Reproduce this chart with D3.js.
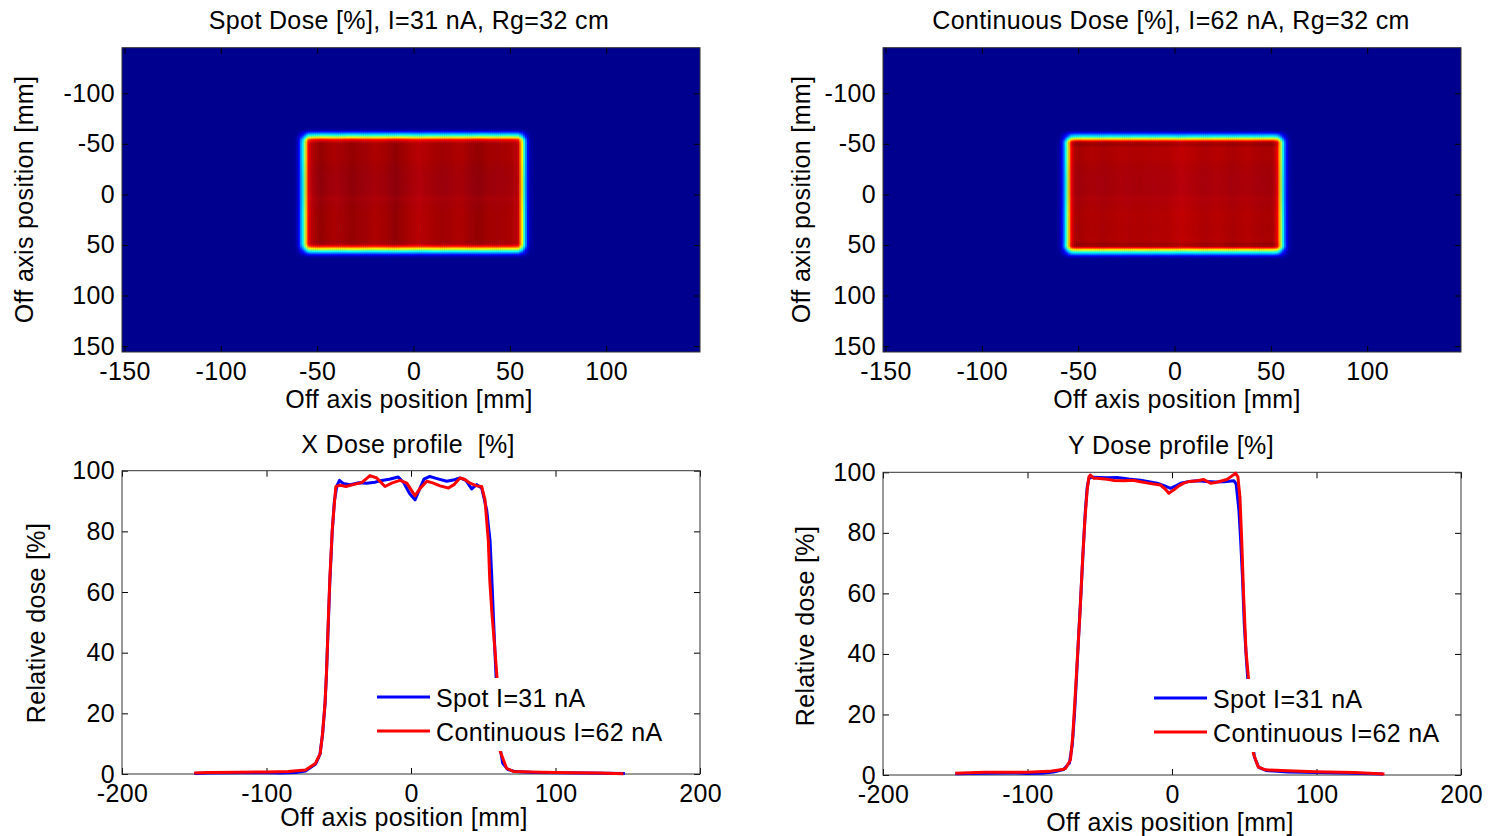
<!DOCTYPE html>
<html>
<head>
<meta charset="utf-8">
<script src="https://cdn.jsdelivr.net/npm/d3@7"></script>
<style>
  body { margin: 0; background: #fff; }
  svg { display: block; }
  text { font-family: "Liberation Sans", Arial, sans-serif; font-size: 25px; fill: #000; letter-spacing: 0.35px; }
</style>
</head>
<body>
<svg id="chart" width="1493" height="836"></svg>
<script>
// ---- tick labels
const mapXTicks = [-150, -100, -50, 0, 50, 100];
const mapYTicks = [-100, -50, 0, 50, 100, 150];
const profXTicks = [-200, -100, 0, 100, 200];
const profYTicks = [0, 20, 40, 60, 80, 100];

// ---- dose maps: column (x) and row (y) profiles [%]
const spotColPos = [-62, -60.5, -59.5, -58.6, -57.3, -56.6, -55.9, -55.3, -54.7, -53, -51, -48, -44, -40, -36, -32, -26, -20, -14, -9, -4, 0, 3, 6, 10, 14, 19, 24, 29, 34, 39, 44, 50, 54.3, 55, 55.5, 56.5, 57.1, 57.7, 58.5, 59.4, 60.5, 62];
const spotColVal = [0, 4, 12, 25, 37.5, 50, 62.5, 75, 87.5, 94, 96, 98, 96.5, 95.5, 96.5, 98, 96.5, 95.5, 96.5, 98, 96.5, 95, 94, 95, 96, 96.5, 96, 95.5, 96.5, 98, 96.5, 96, 96, 94, 87.5, 75, 62.5, 50, 37.5, 25, 12, 4, 0];
const spotRowPos = [-65, -63.5, -62.3, -60.7, -59, -57.7, -56.4, -55.4, -54.5, -52.5, -50.5, -30, -10, 0, 4, 8, 20, 40, 48.4, 50, 51.8, 53, 54, 55.3, 56.7, 58.3, 60, 61.5, 63];
const spotRowVal = [0, 4, 12, 25, 37.5, 50, 62.5, 75, 87.5, 96, 100, 100, 99.5, 99.5, 98.5, 99.5, 100, 100, 100, 96, 85, 72, 62.5, 50, 37.5, 25, 12, 4, 0];

const contColPos = [-61, -59.5, -58.3, -57.2, -56.4, -55.7, -55, -54.3, -53.6, -52, -50, -42, -34, -26, -18, -10, -4, 0, 3.5, 7, 14, 22, 30, 38, 46, 50, 52, 53.6, 54.3, 55, 55.7, 56.4, 57.2, 58.3, 59.5, 61];
const contColVal = [0, 4, 12, 25, 37.5, 50, 62.5, 75, 87.5, 95, 96.5, 95.5, 96, 95, 95.8, 95, 95.5, 94.5, 93.5, 94.5, 95.5, 95, 95.8, 95.2, 96, 96.5, 95, 87.5, 75, 62.5, 50, 37.5, 25, 12, 4, 0];
const contRowPos = [-64, -62.5, -61, -59.5, -57.5, -56.3, -55.2, -54.2, -53.2, -51.5, -49.5, -46, -30, -15, 0, 4, 8, 20, 35, 46, 49.5, 51.5, 53, 54, 55, 56.3, 57.8, 59.5, 61, 62.5, 64];
const contRowVal = [0, 4, 12, 25, 37.5, 50, 62.5, 75, 87.5, 100, 102, 99.5, 99.8, 99.3, 99.3, 98.5, 99.3, 99.5, 99.8, 99.5, 102, 100, 87.5, 75, 62.5, 50, 37.5, 25, 12, 4, 0];

// ---- X dose profile [mm, %]
const xSpot = [[-150, 0.2], [-140, 0.3], [-120, 0.4], [-100, 0.4], [-90, 0.3], [-80, 0.5], [-73, 1.0], [-66, 3.3], [-63, 6.5], [-61.2, 13], [-59.5, 23], [-58.5, 33], [-57.2, 50], [-56.2, 63], [-54.5, 80], [-53, 90], [-51.3, 95], [-49.5, 96.8], [-47, 95.8], [-42, 95.4], [-36, 96], [-30.7, 95.9], [-25, 96.2], [-20.3, 96.8], [-15, 97.2], [-8.8, 97.9], [-5, 96], [-1, 92.5], [2.8, 90.4], [6, 94], [9, 97.2], [13, 98.1], [18, 97.4], [24.7, 96.5], [30, 97], [33.9, 97.6], [38, 96.8], [42, 94], [45.5, 95.4], [48.9, 94.3], [50.5, 91], [52.4, 87], [54.7, 77], [55.8, 66], [57.2, 50], [58.5, 36], [60, 21], [61.5, 9], [63.5, 3.5], [67, 1.5], [72, 0.8], [85, 0.5], [100, 0.4], [120, 0.3], [148, 0.2]];
const xCont = [[-150, 0.3], [-140, 0.5], [-120, 0.6], [-100, 0.7], [-85, 0.8], [-73, 1.3], [-66.1, 3.5], [-62.8, 6.8], [-61.2, 13.4], [-59.5, 23.3], [-58.5, 33.2], [-57.2, 50.8], [-56.2, 64], [-54.5, 80.5], [-52.9, 90], [-52, 94.8], [-49, 95.2], [-45, 94.8], [-40, 95.4], [-34.1, 96.1], [-28.4, 98.4], [-23.7, 97.6], [-18, 94.8], [-13, 96], [-7.6, 96.8], [-2.9, 95.9], [2.8, 91.7], [6, 94], [10.9, 96.5], [15, 96], [20.1, 95], [25.9, 94.3], [30, 95.5], [33.9, 97.6], [37, 97.2], [40.8, 95.9], [45.5, 95], [48.9, 94.8], [51.2, 90.4], [53.5, 77], [54.5, 64], [56, 53], [57.9, 42], [59.5, 32], [61.8, 7.4], [66.1, 1.9], [71.1, 0.8], [90, 0.6], [112, 0.4], [130, 0.3], [147, 0.1]];

// ---- Y dose profile [mm, %]
const ySpot = [[-150, 0.4], [-130, 0.6], [-110, 0.7], [-100, 0.5], [-90, 0.6], [-82, 1], [-75, 1.8], [-71, 4], [-69, 10], [-67.5, 20], [-66, 33], [-64.5, 47], [-63, 60], [-61.5, 74], [-60, 87], [-58.7, 95], [-57.5, 98], [-55, 98.4], [-50, 98.3], [-45, 98.2], [-38, 98.3], [-30, 97.8], [-21.8, 97.4], [-15, 96.8], [-10.3, 96.4], [-5, 95.5], [-1, 94.7], [3, 95.6], [6, 96.4], [12, 97], [17.5, 97.2], [24, 97], [30, 96.8], [36, 96.9], [42.9, 97.2], [44.4, 96.1], [46.3, 87.5], [47.5, 77.6], [48.8, 65], [50, 50], [51.5, 38], [53, 28], [55, 14], [57, 6], [60, 2.5], [65, 1.5], [80, 1], [100, 0.8], [125, 0.6], [146, 0.3]];
const yCont = [[-150, 0.6], [-130, 0.9], [-110, 0.9], [-100, 0.9], [-85, 1.2], [-76, 1.8], [-73.6, 2.2], [-70.3, 5], [-68.7, 12.7], [-67, 25.9], [-65.3, 40.2], [-63.7, 53.4], [-62, 69.9], [-60.3, 84.2], [-58.7, 94.2], [-57.5, 98.5], [-56.5, 99.1], [-54, 98], [-51.9, 98], [-44.9, 97.7], [-40, 97.3], [-33.4, 97.2], [-27, 97.4], [-21.8, 96.9], [-12.6, 96.1], [-8, 95.8], [-4.5, 94.4], [-2.2, 93.1], [1.3, 94.2], [5, 95.6], [8.2, 96.4], [12, 97], [17.5, 97.2], [22, 97.6], [26.7, 96.4], [30, 96.6], [34.8, 97.2], [38, 97.6], [40.6, 98.5], [44, 99.7], [45.6, 98.5], [47, 91.9], [48.2, 78], [49.5, 60], [51.2, 41], [52.8, 32.5], [56.3, 7.2], [59.6, 2.7], [64.5, 1.7], [80, 1.4], [99, 1.1], [126, 0.8], [147, 0.3]];

const legendNames = ["Spot I=31 nA", "Continuous I=62 nA"];
const SPOT = "#0000ff";
const CONT = "#ff0000";

const svg = d3.select("#chart");

const jet = d3.scaleLinear()
  .domain([0, 12.5, 37.5, 62.5, 87.5, 100])
  .range(["#00008f", "#0000ff", "#00ffff", "#ffff00", "#ff0000", "#800000"])
  .clamp(true);

function label(x, y, str, opts = {}) {
  const t = svg.append("text")
    .attr("text-anchor", opts.anchor || "middle")
    .style("white-space", "pre")
    .text(str);
  if (opts.rotate) t.attr("transform", `translate(${x},${y}) rotate(-90)`);
  else t.attr("x", x).attr("y", y);
  return t;
}

function axes(p, x, y, xTicks, yTicks) {
  const g = svg.append("g");
  const fmt = d => String(d);
  g.append("g").attr("transform", `translate(0,${p.bottom})`)
    .call(d3.axisBottom(x).tickValues(xTicks).tickSize(-6).tickPadding(10).tickFormat(fmt));
  g.append("g").attr("transform", `translate(0,${p.top})`)
    .call(d3.axisTop(x).tickValues(xTicks).tickSize(-6).tickFormat(""));
  g.append("g").attr("transform", `translate(${p.left},0)`)
    .call(d3.axisLeft(y).tickValues(yTicks).tickSize(-6).tickPadding(7).tickFormat(fmt));
  g.append("g").attr("transform", `translate(${p.right},0)`)
    .call(d3.axisRight(y).tickValues(yTicks).tickSize(-6).tickFormat(""));
  g.selectAll(".domain").remove();
  g.selectAll(".tick line").attr("stroke", "#000");
  g.append("rect")
    .attr("x", p.left).attr("y", p.top)
    .attr("width", p.right - p.left).attr("height", p.bottom - p.top)
    .attr("fill", "none").attr("stroke", "#333").attr("stroke-width", 1);
}

function doseMap(p, colPos, colVal, rowPos, rowVal) {
  const x = d3.scaleLinear().domain([-151.3, 148.7]).range([p.left, p.right]);
  const y = d3.scaleLinear().domain([-145.1, 155.9]).range([p.top, p.bottom]);
  const col = d3.scaleLinear().domain(colPos).range(colVal).clamp(true);
  const row = d3.scaleLinear().domain(rowPos).range(rowVal).clamp(true);

  const cells = [];
  for (let gx = -66; gx < 66; gx++) {
    for (let gy = -66; gy < 66; gy++) {
      const v = col(gx + 0.5) * row(gy + 0.5) / 100;
      if (v > 0.5) cells.push({ x: gx, y: gy, v });
    }
  }

  const g = svg.append("g");
  g.append("rect")
    .attr("x", p.left).attr("y", p.top)
    .attr("width", p.right - p.left).attr("height", p.bottom - p.top)
    .attr("fill", jet(0));
  g.selectAll("rect.cell")
    .data(cells)
    .join("rect")
    .attr("class", "cell")
    .attr("x", d => x(d.x))
    .attr("y", d => y(d.y))
    .attr("width", d => x(d.x + 1) - x(d.x) + 0.4)
    .attr("height", d => y(d.y + 1) - y(d.y) + 0.4)
    .attr("fill", d => jet(d.v));

  axes(p, x, y, mapXTicks, mapYTicks);
}

function profile(p, spot, cont, legendX, legendY) {
  const x = d3.scaleLinear().domain([-200, 200]).range([p.left, p.right]);
  const y = d3.scaleLinear().domain([0, 100]).range([p.bottom, p.top]);
  const line = d3.line()
    .x(d => x(d[0]))
    .y(d => y(d[1]));

  axes(p, x, y, profXTicks, profYTicks);

  svg.append("path").datum(spot)
    .attr("d", line).attr("fill", "none")
    .attr("stroke", SPOT).attr("stroke-width", 3).attr("stroke-linejoin", "round");
  svg.append("path").datum(cont)
    .attr("d", line).attr("fill", "none")
    .attr("stroke", CONT).attr("stroke-width", 3).attr("stroke-linejoin", "round");

  // legend: white background, no visible border
  svg.append("rect")
    .attr("x", legendX - 7).attr("y", legendY - 19)
    .attr("width", 300).attr("height", 73)
    .attr("fill", "#fff");
  [SPOT, CONT].forEach((c, i) => {
    const ly = legendY + i * 34;
    svg.append("line")
      .attr("x1", legendX).attr("x2", legendX + 53)
      .attr("y1", ly).attr("y2", ly)
      .attr("stroke", c).attr("stroke-width", 3);
    label(legendX + 59, ly + 10, legendNames[i], { anchor: "start" });
  });
}

const spotMap = { left: 122, right: 700, top: 47.7, bottom: 352 };
const contMap = { left: 883, right: 1461, top: 47.7, bottom: 352 };
const xProf = { left: 122, right: 700, top: 470.7, bottom: 774 };
const yProf = { left: 883, right: 1461, top: 472.3, bottom: 775 };

doseMap(spotMap, spotColPos, spotColVal, spotRowPos, spotRowVal);
doseMap(contMap, contColPos, contColVal, contRowPos, contRowVal);
profile(xProf, xSpot, xCont, 377, 697);
profile(yProf, ySpot, yCont, 1154, 698);

// titles and axis labels
label(409, 29, "Spot Dose [%], I=31 nA, Rg=32 cm");
label(1171, 29, "Continuous Dose [%], I=62 nA, Rg=32 cm");
label(408, 453, "X Dose profile  [%]");
label(1171, 454, "Y Dose profile [%]");

label(409, 408, "Off axis position [mm]");
label(1177, 408, "Off axis position [mm]");
label(404, 826, "Off axis position [mm]");
label(1170, 831, "Off axis position [mm]");

label(33, 199.5, "Off axis position [mm]", { rotate: true });
label(810, 199.5, "Off axis position [mm]", { rotate: true });
label(45, 623, "Relative dose [%]", { rotate: true });
label(814, 626, "Relative dose [%]", { rotate: true });
</script>
</body>
</html>
